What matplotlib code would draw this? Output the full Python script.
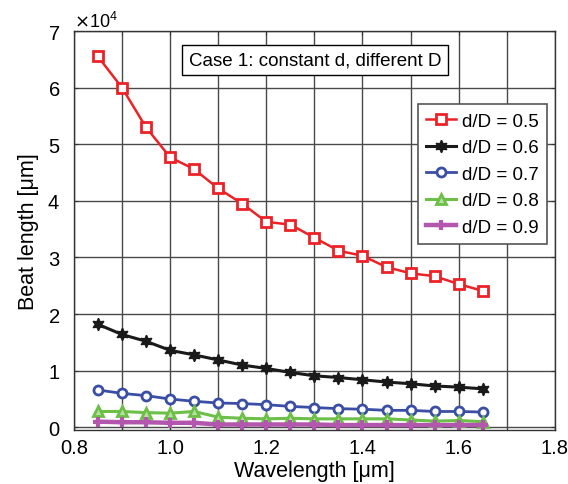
import numpy as np
import matplotlib
matplotlib.use("Agg")
import matplotlib.pyplot as plt
from matplotlib.ticker import MultipleLocator, ScalarFormatter

plt.rcParams['font.family'] = ['Liberation Sans', 'DejaVu Sans']

# wavelength samples [um]
wavelength = [0.85, 0.90, 0.95, 1.00, 1.05, 1.10, 1.15, 1.20, 1.25,
              1.30, 1.35, 1.40, 1.45, 1.50, 1.55, 1.60, 1.65]

# beat length [um] for each d/D ratio
beat_05 = [65500, 60000, 53000, 47700, 45600, 42200, 39500, 36300, 35800,
           33500, 31200, 30300, 28300, 27200, 26700, 25300, 24100]
beat_06 = [18200, 16400, 15200, 13600, 12800, 11900, 11000, 10400, 9700,
           9100, 8800, 8400, 8000, 7700, 7300, 7100, 6800]
beat_07 = [6600, 6000, 5600, 5000, 4600, 4300, 4200, 4000, 3700,
           3500, 3300, 3200, 3000, 3000, 2800, 2800, 2700]
beat_08 = [2800, 2800, 2600, 2500, 2800, 1800, 1600, 1500, 1600,
           1500, 1500, 1500, 1500, 1300, 1100, 1200, 1000]
beat_09 = [1000, 900, 900, 800, 800, 500, 500, 500, 500,
           500, 400, 400, 400, 400, 400, 400, 400]

labels = ["d/D = 0.5", "d/D = 0.6", "d/D = 0.7", "d/D = 0.8", "d/D = 0.9"]

fig = plt.figure(figsize=(5.68, 4.85), dpi=100)
ax = fig.add_axes([0.130, 0.111, 0.847, 0.823])

ax.plot(wavelength, beat_05, color='#ec2227', lw=1.8, marker='s', ms=7.5,
        mfc='white', mec='#ec2227', mew=2, label=labels[0])
ax.plot(wavelength, beat_06, color='#1a1a1a', lw=2.2, marker=(6, 1, 0), ms=9,
        mfc='#1a1a1a', mec='#1a1a1a', mew=1, label=labels[1])
ax.plot(wavelength, beat_07, color='#3a4ea6', lw=2, marker='o', ms=6.5,
        mfc='white', mec='#3a4ea6', mew=2, label=labels[2])
ax.plot(wavelength, beat_08, color='#6cbf47', lw=2.2, marker='^', ms=7.5,
        mfc='#b8e0a0', mec='#6cbf47', mew=2, label=labels[3])
ax.plot(wavelength, beat_09, color='#b257ad', lw=3.2, marker='+', ms=7,
        mew=3, label=labels[4])

ax.set_xlim(0.8, 1.8)
ax.set_ylim(-500, 70000)
ax.xaxis.set_major_locator(MultipleLocator(0.2))
ax.xaxis.set_minor_locator(MultipleLocator(0.1))
ax.xaxis.set_major_formatter(matplotlib.ticker.FormatStrFormatter('%.1f'))
ax.yaxis.set_major_locator(MultipleLocator(10000))

fmt = ScalarFormatter(useMathText=True)
fmt.set_powerlimits((0, 0))
ax.yaxis.set_major_formatter(fmt)
ax.yaxis.get_offset_text().set_fontsize(13)

ax.grid(True, which='both', color='#4a4a4a', lw=1.0)
ax.set_axisbelow(True)
ax.tick_params(which='both', direction='in', top=True, right=True,
               labelsize=14.5, length=3, color='#333333')
ax.tick_params(axis='y', pad=10)
ax.tick_params(axis='x', pad=6)
for s in ax.spines.values():
    s.set_color('#333333')
    s.set_linewidth(1.0)

ax.set_xlabel("Wavelength [μm]", fontsize=15.5, labelpad=2)
ax.set_ylabel("Beat length [μm]", fontsize=15.5, labelpad=6)

ax.text(0.501, 0.927, "Case 1: constant d, different D", transform=ax.transAxes,
        ha='center', va='center', fontsize=13.5,
        bbox=dict(boxstyle='square,pad=0.35', fc='white', ec='black', lw=1.0))

leg = ax.legend(loc='upper right', bbox_to_anchor=(0.983, 0.817), fontsize=13.5,
                fancybox=False, framealpha=1, edgecolor='#555555',
                handlelength=1.6, handletextpad=0.3, borderpad=0.45,
                labelspacing=0.5, borderaxespad=0)
leg.get_frame().set_linewidth(1.2)

fig.savefig("out.png", dpi=100)
